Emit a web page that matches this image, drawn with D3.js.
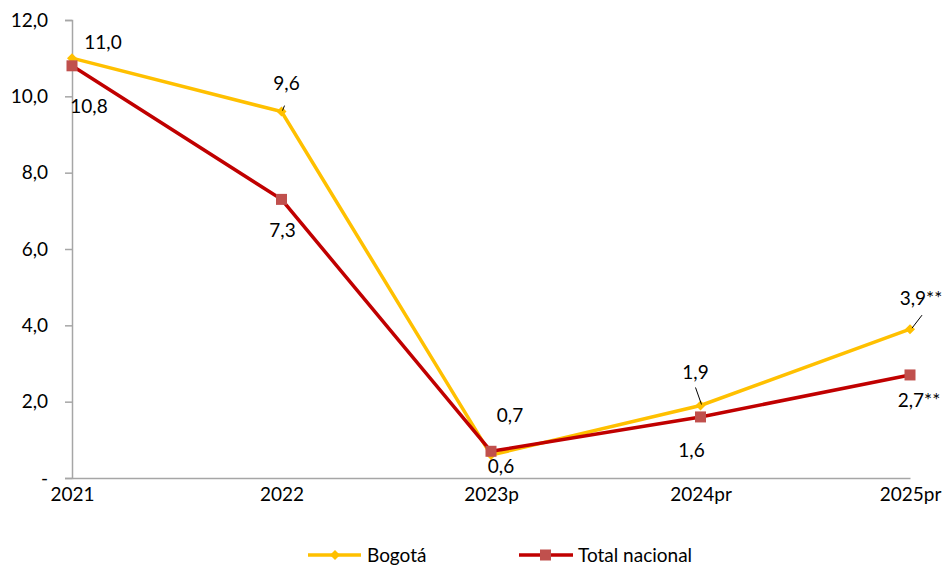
<!DOCTYPE html>
<html>
<head>
<meta charset="utf-8">
<script src="https://cdn.jsdelivr.net/npm/d3@7"></script>
<style>
  body { margin: 0; background: #fff; }
  text { font-family: Lato, "Open Sans", sans-serif; fill: #000; }
</style>
</head>
<body>
<svg id="chart" width="944" height="569"></svg>
<script>
// data
var years = ["2021", "2022", "2023p", "2024pr", "2025pr"];
var bogota = [11.0, 9.6, 0.6, 1.9, 3.9];
var nacional = [10.8, 7.3, 0.7, 1.6, 2.7];
var bogotaLabels = ["11,0", "9,6", "0,6", "1,9", "3,9**"];
var nacionalLabels = ["10,8", "7,3", "0,7", "1,6", "2,7**"];
var yTicks = [0, 2, 4, 6, 8, 10, 12];

var svg = d3.select("#chart");
var margin = {left: 72, right: 34, top: 20, bottom: 91};
var W = 944, H = 569;
var fs = 19;

var x = d3.scalePoint().domain(years).range([margin.left, W - margin.right]);
var y = d3.scaleLinear().domain([0, 12]).range([H - margin.bottom, margin.top]);

var fmt = function(d){ return d === 0 ? "-" : d3.format(".1f")(d).replace(".", ","); };

// y axis
var yAxis = svg.append("g")
    .attr("transform", "translate(" + margin.left + ",0)")
    .call(d3.axisLeft(y).tickValues(yTicks).tickFormat(fmt).tickSize(7).tickPadding(17));
yAxis.select(".domain").attr("stroke", "#a6a6a6").attr("stroke-width", 1.5);
yAxis.selectAll(".tick line").attr("stroke", "#a6a6a6").attr("stroke-width", 1.5);
yAxis.selectAll(".tick text").attr("font-size", fs).style("font-family", "Lato, sans-serif");

// x axis
var xAxis = svg.append("g")
    .attr("transform", "translate(0," + y(0) + ")")
    .call(d3.axisBottom(x).tickSize(0).tickPadding(10));
xAxis.select(".domain").attr("stroke", "#a6a6a6").attr("stroke-width", 1.5);
xAxis.selectAll(".tick text").attr("font-size", fs).style("font-family", "Lato, sans-serif");

var line = d3.line().x(function(d, i){ return x(years[i]); }).y(function(d){ return y(d); });

// Bogotá line
svg.append("path").datum(bogota)
    .attr("d", line).attr("fill", "none")
    .attr("stroke", "#FFC000").attr("stroke-width", 3.5);

// Total nacional line
svg.append("path").datum(nacional)
    .attr("d", line).attr("fill", "none")
    .attr("stroke", "#C00000").attr("stroke-width", 3.5);

var diamond = d3.symbol().type(d3.symbolSquare).size(50);

svg.selectAll(".bog").data(bogota).enter().append("path")
    .attr("class", "bog")
    .attr("d", diamond)
    .attr("transform", function(d, i){ return "translate(" + x(years[i]) + "," + y(d) + ") rotate(45)"; })
    .attr("fill", "#FFC000");

svg.selectAll(".nac").data(nacional).enter().append("rect")
    .attr("class", "nac")
    .attr("x", function(d, i){ return x(years[i]) - 5.5; })
    .attr("y", function(d){ return y(d) - 5.5; })
    .attr("width", 11).attr("height", 11)
    .attr("fill", "#C0504D");

// label offsets (dx, dy from point to text centre)
var bogOff = [[31, -16], [5, -28], [10, 11], [-5, -33], [11, -31]];
var nacOff = [[17, 41], [1, 31], [19, -36], [-9, 33], [9, 25]];

svg.selectAll(".bogLab").data(bogota).enter().append("text")
    .attr("x", function(d, i){ return x(years[i]) + bogOff[i][0]; })
    .attr("y", function(d, i){ return y(d) + bogOff[i][1]; })
    .attr("dy", "0.35em").attr("text-anchor", "middle").attr("font-size", fs)
    .text(function(d, i){ return bogotaLabels[i]; });

svg.selectAll(".nacLab").data(nacional).enter().append("text")
    .attr("x", function(d, i){ return x(years[i]) + nacOff[i][0]; })
    .attr("y", function(d, i){ return y(d) + nacOff[i][1]; })
    .attr("dy", "0.35em").attr("text-anchor", "middle").attr("font-size", fs)
    .text(function(d, i){ return nacionalLabels[i]; });

// leader lines for moved labels
var leaders = [[1, 3, -6, 1, -1], [3, -5, -18, 1, -1], [4, 12, -14, 2, -1]];
leaders.forEach(function(l){
    var px = x(years[l[0]]), py = y(bogota[l[0]]);
    svg.append("line")
        .attr("x1", px + l[1]).attr("y1", py + l[2])
        .attr("x2", px + l[3]).attr("y2", py + l[4])
        .attr("stroke", "#000").attr("stroke-width", 1);
});

// legend
var leg = svg.append("g").attr("transform", "translate(0,555)");
leg.append("line").attr("x1", 308).attr("x2", 361).attr("stroke", "#FFC000").attr("stroke-width", 3.5);
leg.append("path").attr("d", diamond).attr("transform", "translate(335,0) rotate(45)").attr("fill", "#FFC000");
leg.append("text").attr("x", 367).attr("dy", "0.35em").attr("font-size", fs).text("Bogotá");
leg.append("line").attr("x1", 519).attr("x2", 573).attr("stroke", "#C00000").attr("stroke-width", 3.5);
leg.append("rect").attr("x", 540).attr("y", -5.5).attr("width", 11).attr("height", 11).attr("fill", "#C0504D");
leg.append("text").attr("x", 578).attr("dy", "0.35em").attr("font-size", fs).text("Total nacional");
</script>
</body>
</html>
